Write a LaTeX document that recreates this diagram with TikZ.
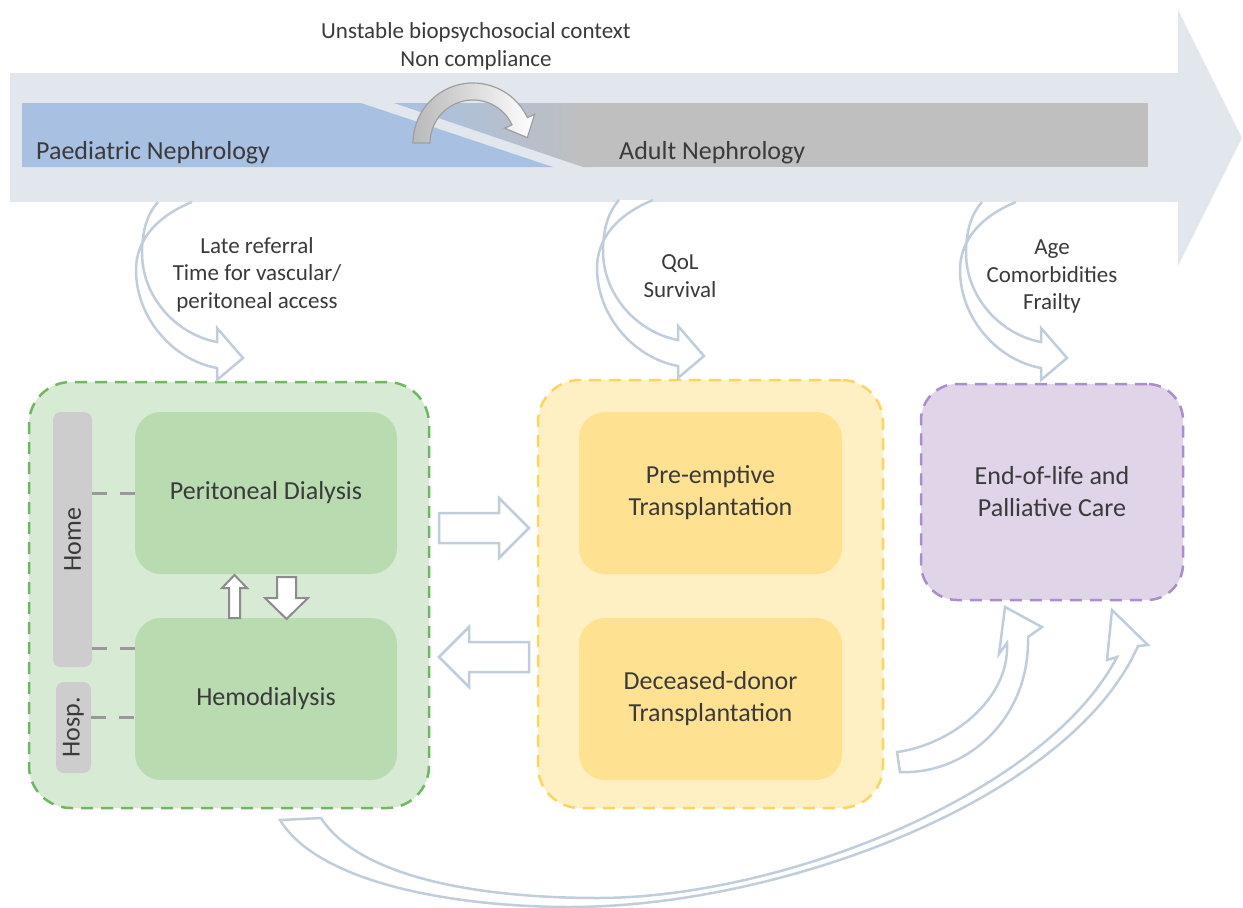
\documentclass[tikz,border=0pt]{standalone}
\usepackage{fontspec}
\setmainfont{Carlito}
\newcommand\bxfont{\fontsize{26}{32}\selectfont}
\newcommand\lbfont{\fontsize{23}{27.5}\selectfont}
\newcommand\bandfont{\fontsize{26}{30}\selectfont}
\definecolor{bigarrow}{RGB}{225,231,236}
\definecolor{paedblue}{RGB}{168,192,226}
\definecolor{adultgrey}{RGB}{191,191,191}
\definecolor{hookline}{RGB}{192,206,220}
\definecolor{txt}{RGB}{58,58,58}
\definecolor{greenfill}{RGB}{215,234,211}
\definecolor{greenline}{RGB}{110,185,95}
\definecolor{greeninner}{RGB}{184,220,176}
\definecolor{barfill}{RGB}{205,205,205}
\definecolor{yellowfill}{RGB}{255,240,196}
\definecolor{yellowline}{RGB}{255,212,90}
\definecolor{yellowinner}{RGB}{255,226,145}
\definecolor{purplefill}{RGB}{224,212,233}
\definecolor{purpleline}{RGB}{170,142,204}
\definecolor{blockgrey}{RGB}{140,140,140}
\begin{document}
\begin{tikzpicture}[x=1pt,y=-1pt,
  hookarrow/.style={fill=white, draw=hookline, line width=2.5pt, line join=miter},
  blockarrow/.style={fill=white, draw=hookline, line width=2.5pt, line join=miter},
  smallarrow/.style={fill=white, draw=blockgrey, line width=2pt, line join=miter},
  groupbox/.style={rectangle, rounded corners=42pt, line width=2.5pt, dash pattern=on 12pt off 8pt, inner sep=0pt},
  stagebox/.style={rectangle, rounded corners=26pt, inner sep=0pt, text=txt, align=center, font=\bxfont, minimum width=262pt, minimum height=162pt},
  sidebar/.style={rectangle, rounded corners=8pt, fill=barfill, inner sep=0pt},
  barlink/.style={draw=gray!80, line width=3pt, dash pattern=on 15pt off 13pt},
  lbl/.style={text=txt, align=center, font=\lbfont, inner sep=0pt},
  bandtext/.style={text=txt, font=\bandfont, inner sep=0pt, anchor=west}
]
\useasboundingbox (0,0) rectangle (1243,908);

% big timeline arrow
\fill[bigarrow] (10,73) -- (1178,73) -- (1178,10) -- (1242,138) -- (1178,266) -- (1178,202) -- (10,202) -- cycle;
% bands
\fill[paedblue] (22,103) -- (361,103) -- (553,167) -- (22,167) -- cycle;
\shade[left color=paedblue, right color=adultgrey] (394,103) -- (592,103) -- (592,167) -- (583,167) -- cycle;
\fill[adultgrey] (591,103) rectangle (1148,167);
% transition arrow
\shadedraw[left color=gray!55, right color=white, draw=gray!75, line width=1.2pt, line join=miter]
 (413,143) arc[start angle=180, end angle=335, radius=60] -- (534.6,114.3) -- (527.3,137.6) -- (504.7,128.2) -- (512,124.8) arc[start angle=335, end angle=180, radius=43] -- cycle;

\node[lbl] (topnote) at (476,46.5) {Unstable biopsychosocial context\\Non compliance};
\node[bandtext] (paed) at (36,153) {Paediatric Nephrology};
\node[bandtext] (adult) at (619,153) {Adult Nephrology};

% group boxes
\node[groupbox, fill=greenfill, draw=greenline, minimum width=400pt, minimum height=426pt] (dialysis) at (229,595) {};
\node[groupbox, fill=yellowfill, draw=yellowline, minimum width=345pt, minimum height=428pt] (transplant) at (710.5,594) {};
\node[groupbox, rounded corners=36pt, fill=purplefill, draw=purpleline, minimum width=262pt, minimum height=216pt, text=txt, font=\bxfont, align=center] (palliative) at (1052,492) {End-of-life and\\Palliative Care};

% stage boxes
\node[stagebox, fill=greeninner] (pd) at (266,493) {Peritoneal Dialysis};
\node[stagebox, fill=greeninner] (hd) at (266,699) {Hemodialysis};
\node[stagebox, fill=yellowinner, minimum width=263pt] (pre) at (710.5,493) {Pre-emptive\\Transplantation};
\node[stagebox, fill=yellowinner, minimum width=263pt] (dec) at (710.5,699) {Deceased-donor\\Transplantation};

% side bars
\node[sidebar, minimum width=39pt, minimum height=255pt] (home) at (72.5,539.5) {};
\node[rotate=90, text=txt, font=\bxfont, inner sep=0pt] (hometext) at (home.center) {Home};
\node[sidebar, minimum width=35pt, minimum height=91pt] (hosp) at (73.5,727.5) {};
\node[rotate=90, text=txt, font=\bxfont, inner sep=0pt] (hosptext) at (hosp.center) {Hosp.};

\coordinate (hdhome) at (135,648);
\coordinate (hdhosp) at (135,717);
\draw[barlink] (pd.west -| home.east) -- (pd.west);
\draw[barlink] (hdhome -| home.east) -- (hdhome);
\draw[barlink] (hdhosp -| hosp.east) -- (hdhosp);

% small arrows between PD and HD
\draw[smallarrow] (229,618) -- (229,588) -- (222,588) -- (234.5,575) -- (247,588) -- (240,588) -- (240,618) -- cycle;
\draw[smallarrow] (277,577) -- (296,577) -- (296,598) -- (308,598) -- (286.5,619) -- (265,598) -- (277,598) -- cycle;

% block arrows between groups
\draw[blockarrow] (439,513) -- (499,513) -- (499,498) -- (529,528) -- (499,558) -- (499,543) -- (439,543) -- cycle;
\draw[blockarrow] (529,642) -- (469,642) -- (469,627) -- (439,657) -- (469,687) -- (469,672) -- (529,672) -- cycle;

% hook arrows from timeline
\foreach \tx/\ty in {243/358, 704/356, 1067/358}{
\begin{scope}[shift={(\tx,\ty)}]
\filldraw[hookarrow] (-51,-156) .. controls (-90,-140) and (-107,-115) .. (-107,-88) .. controls (-107,-40) and (-70,2) .. (-26,10) -- (-26,22) -- (0,0) -- (-26,-30) -- (-26,-16) .. controls (-68,-24) and (-101,-62) .. (-101,-105) .. controls (-101,-128) and (-95,-145) .. (-85,-156);
\end{scope}}

\node[lbl] (latenote) at (257,274.5) {Late referral\\Time for vascular/\\peritoneal access};
\node[lbl] (qolnote) at (680,276) {QoL\\Survival};
\node[lbl] (agenote) at (1052,276.5) {Age\\Comorbidities\\Frailty};

% swoosh arrows to palliative care
\filldraw[hookarrow] (900,772) .. controls (965,775) and (1030,720) .. (1028,637) -- (1042,627) -- (1005,607) -- (999,654) -- (1007,643) .. controls (1010,700) and (950,745) .. (897,752) -- cycle;
\filldraw[hookarrow] (280,820) -- (321,818) .. controls (360,878) and (480,898) .. (598,898) .. controls (780,898) and (1045,795) .. (1117,657) -- (1107,660) -- (1112,610) -- (1148,645) -- (1138,646) .. controls (1070,800) and (780,907) .. (570,907) .. controls (460,907) and (320,885) .. (280,820) -- cycle;
\end{tikzpicture}
\end{document}
